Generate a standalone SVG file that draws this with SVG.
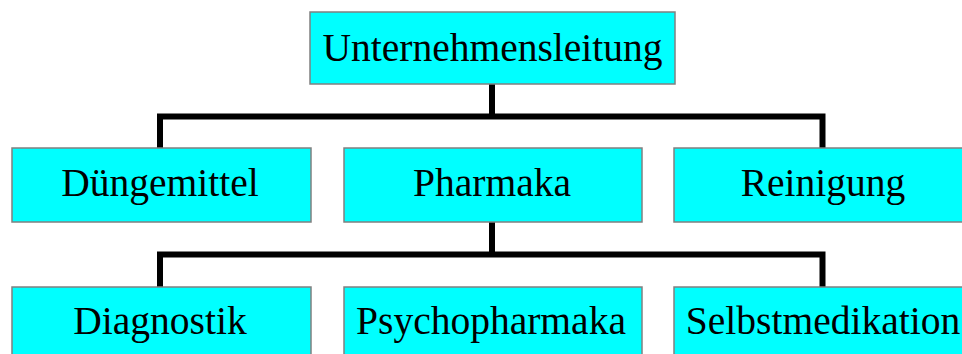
<svg xmlns="http://www.w3.org/2000/svg" width="962" height="354" viewBox="0 0 962 354">
<style>
.box{fill:#00ffff;stroke:#808080;stroke-width:1.5}
.lbl{font-family:"Liberation Serif","Times New Roman",serif;font-size:39.5px;fill:#000;text-anchor:middle}
.conn{fill:none;stroke:#000;stroke-width:6;stroke-linejoin:miter}
</style>
<rect width="962" height="354" fill="#fff"/>
<g id="connectors">
<path class="conn" d="M492,84 V116.5 M160,148 V116.5 H822.5 V148"/>
<path class="conn" d="M492,222 V254.5 M160,287 V254.5 H822.5 V287"/>
</g>
<g id="unternehmensleitung">
<rect class="box" x="310" y="12" width="365" height="72"/>
<text class="lbl" x="492.5" y="61">Unternehmensleitung</text>
</g>
<g id="duengemittel">
<rect class="box" x="12" y="148" width="299" height="74"/>
<text class="lbl" x="160" y="196">Düngemittel</text>
</g>
<g id="pharmaka">
<rect class="box" x="344" y="148" width="298" height="74"/>
<text class="lbl" x="492" y="196">Pharmaka</text>
</g>
<g id="reinigung">
<rect class="box" x="674" y="148" width="298" height="74"/>
<text class="lbl" x="823" y="196">Reinigung</text>
</g>
<g id="diagnostik">
<rect class="box" x="12" y="287" width="299" height="80"/>
<text class="lbl" x="160" y="334">Diagnostik</text>
</g>
<g id="psychopharmaka">
<rect class="box" x="344" y="287" width="298" height="80"/>
<text class="lbl" x="491" y="334">Psychopharmaka</text>
</g>
<g id="selbstmedikation">
<rect class="box" x="674" y="287" width="298" height="80"/>
<text class="lbl" x="823" y="334">Selbstmedikation</text>
</g>
</svg>
